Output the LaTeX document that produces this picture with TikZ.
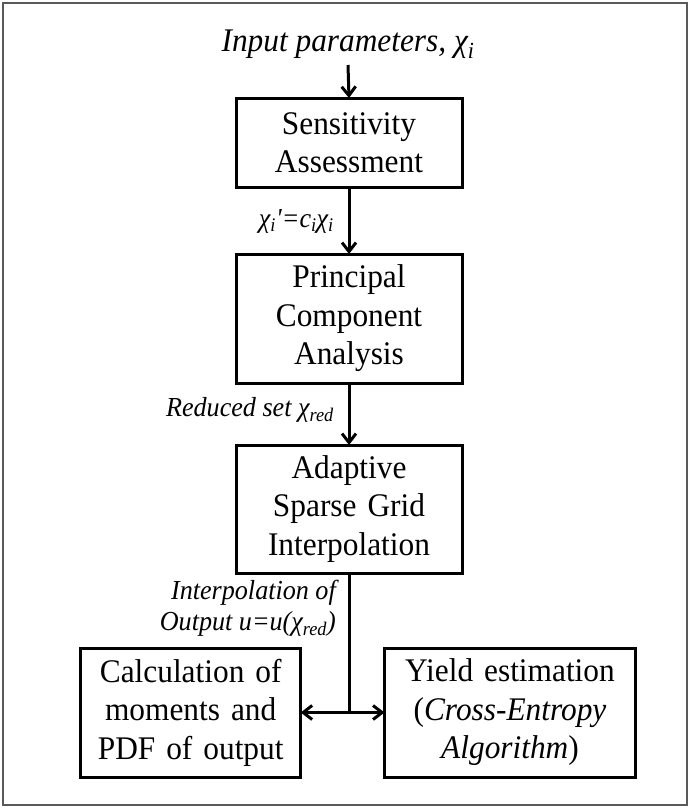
\documentclass[tikz,border=0pt]{standalone}
\usepackage{fontspec}
\setmainfont{Liberation Serif}[FakeStretch=0.95]
\usetikzlibrary{arrows.meta}
\tikzset{
  stepbox/.style={draw, line width=3pt, inner sep=0pt, outer sep=0pt, align=center,
    font=\fontsize{33}{38.5}\selectfont},
  lbl/.style={inner sep=0pt, font=\fontsize{27.5}{31}\selectfont\itshape},
  arr/.style={line width=3pt, -{Straight Barb[length=9pt,width=14pt,line width=3pt]}},
  ln/.style={line width=3pt},
}
\begin{document}
\begin{tikzpicture}[x=1pt,y=-1pt]
\useasboundingbox (0,0) rectangle (691,808);
\draw[line width=1.5pt, color=black!65] (3,3) rectangle (687,805);
\node[inner sep=0pt, outer sep=0pt, anchor=base, font=\fontsize{33}{38}\selectfont\itshape] (in) at (348,52) {Input parameters, χ\textsubscript{i}};
\node[stepbox, text width=226pt, minimum height=89pt] (sa) at (349,142.5) {Sensitivity\\Assessment};
\node[stepbox, text width=226pt, minimum height=129pt] (pca) at (349,318.5) {Principal\\Component\\Analysis};
\node[stepbox, text width=226pt, minimum height=128pt] (asg) at (349,509) {Adaptive\\Sparse Grid\\Interpolation};
\node[stepbox, text width=220pt, minimum height=129pt] (calc) at (190.7,712.5) {Calculation of\\moments and\\PDF of output};
\node[stepbox, text width=251pt, minimum height=129pt] (yield) at (510,712.5) {Yield estimation\\(\textit{Cross-Entropy}\\\textit{Algorithm})};
\coordinate (j) at (349,712.5);
\node[lbl, anchor=east] (l1) at (334,221) {χ\textsubscript{i}\textquotesingle=c\textsubscript{i}χ\textsubscript{i}};
\node[lbl, anchor=east] (l2) at (334,410) {Reduced set χ\textsubscript{red}};
\node[lbl, anchor=east, align=right] (l3) at (336,608) {Interpolation of\\Output u=u(χ\textsubscript{red})};
\draw[arr] ([yshift=-13pt]in.base) -- (sa.north);
\draw[arr] (sa.south) -- (pca.north);
\draw[arr] (pca.south) -- (asg.north);
\draw[ln] (asg.south) -- (j);
\draw[arr] (j) -- (calc.east);
\draw[arr] (j) -- (yield.west);
\end{tikzpicture}
\end{document}
